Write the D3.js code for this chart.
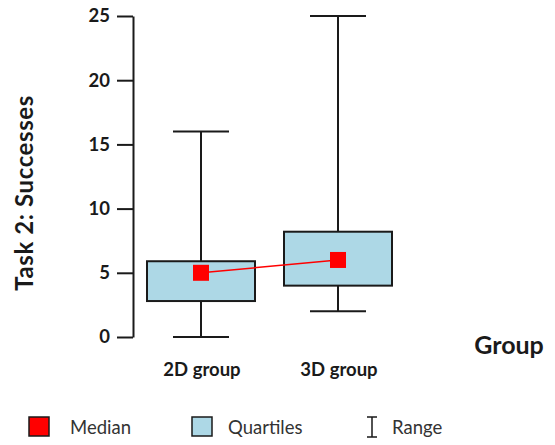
<!DOCTYPE html>
<html><head><meta charset="utf-8">
<script src="https://cdn.jsdelivr.net/npm/d3@7"></script>
<style>body{margin:0;background:#fff}svg{display:block}</style>
</head><body>
<script>
const groups = ["2D group", "3D group"];
const minVals = [0, 2];
const q1Vals = [2.8, 4];
const medianVals = [5, 6];
const q3Vals = [5.9, 8.2];
const maxVals = [16, 25];
const yTicks = [0, 5, 10, 15, 20, 25];
const legendItems = ["Median", "Quartiles", "Range"];

const W = 555, H = 445;
const svg = d3.select("body").append("svg").attr("width", W).attr("height", H);
const font = "Lato, 'Open Sans', sans-serif";
const ink = "#1a1a1a";

const y = d3.scaleLinear().domain([0, 25]).range([337, 16]);
const x = d3.scalePoint().domain(groups).range([201, 338]);
const boxW = 108, capW = 56;

// Y axis
const yAxis = d3.axisLeft(y).tickValues(yTicks).tickSize(16).tickPadding(7).tickSizeOuter(0);
const ya = svg.append("g").attr("transform", "translate(133,0)").call(yAxis);
ya.select(".domain").attr("stroke", ink).attr("stroke-width", 2);
ya.selectAll(".tick line").attr("stroke", ink).attr("stroke-width", 2);
ya.selectAll(".tick text").attr("font-family", font).attr("font-weight", "bold")
  .attr("font-size", 18.5).attr("fill", ink);

// Y title
svg.append("text").attr("transform", "translate(33,193) rotate(-90)")
  .attr("text-anchor", "middle").attr("font-family", font).attr("font-weight", "bold")
  .attr("font-size", 24).attr("letter-spacing", 0.6).attr("fill", ink).text("Task 2: Successes");

const data = groups.map((g, i) => ({g, min: minVals[i], q1: q1Vals[i], med: medianVals[i], q3: q3Vals[i], max: maxVals[i]}));

const bg = svg.append("g");
data.forEach(d => {
  const cx = x(d.g);
  bg.append("line").attr("x1", cx).attr("x2", cx).attr("y1", y(d.max)).attr("y2", y(d.min))
    .attr("stroke", ink).attr("stroke-width", 2);
  [d.max, d.min].forEach(v => bg.append("line").attr("x1", cx - capW / 2).attr("x2", cx + capW / 2)
    .attr("y1", y(v)).attr("y2", y(v)).attr("stroke", ink).attr("stroke-width", 2));
  bg.append("rect").attr("x", cx - boxW / 2).attr("width", boxW)
    .attr("y", y(d.q3)).attr("height", y(d.q1) - y(d.q3))
    .attr("fill", "#add8e6").attr("stroke", ink).attr("stroke-width", 2);
  bg.append("text").attr("x", cx + 1).attr("y", 376).attr("text-anchor", "middle")
    .attr("font-family", font).attr("font-weight", "bold").attr("font-size", 18.5).attr("fill", ink).text(d.g);
});

// median line
const line = d3.line().x(d => x(d.g)).y(d => y(d.med));
svg.append("path").datum(data).attr("d", line).attr("fill", "none").attr("stroke", "#ff0000").attr("stroke-width", 1.5);
svg.selectAll(".med").data(data).join("rect").attr("class", "med")
  .attr("x", d => x(d.g) - 8).attr("y", d => y(d.med) - 8).attr("width", 16).attr("height", 16)
  .attr("fill", "#ff0000");

// X title
svg.append("text").attr("x", 509).attr("y", 354).attr("text-anchor", "middle")
  .attr("font-family", font).attr("font-weight", "bold").attr("font-size", 25).attr("fill", ink).text("Group");

// Legend
const lg = svg.append("g");
const lx = [29, 192, 366];
lg.append("rect").attr("x", lx[0]).attr("y", 417).attr("width", 20).attr("height", 19)
  .attr("fill", "#ff0000").attr("stroke", ink).attr("stroke-width", 1.5);
lg.append("rect").attr("x", lx[1]).attr("y", 417).attr("width", 20).attr("height", 19)
  .attr("fill", "#add8e6").attr("stroke", ink).attr("stroke-width", 1.5);
const rx = lx[2] + 6;
lg.append("path").attr("d", `M${rx-5},417 H${rx+5} M${rx},417 V437 M${rx-5},437 H${rx+5}`)
  .attr("stroke", ink).attr("stroke-width", 1.5).attr("fill", "none");
[70, 228, 392].forEach((tx, i) => lg.append("text").attr("x", tx).attr("y", 434)
  .attr("font-family", font).attr("font-size", 18.5).attr("fill", "#333").text(legendItems[i]));
</script>
</body></html>
